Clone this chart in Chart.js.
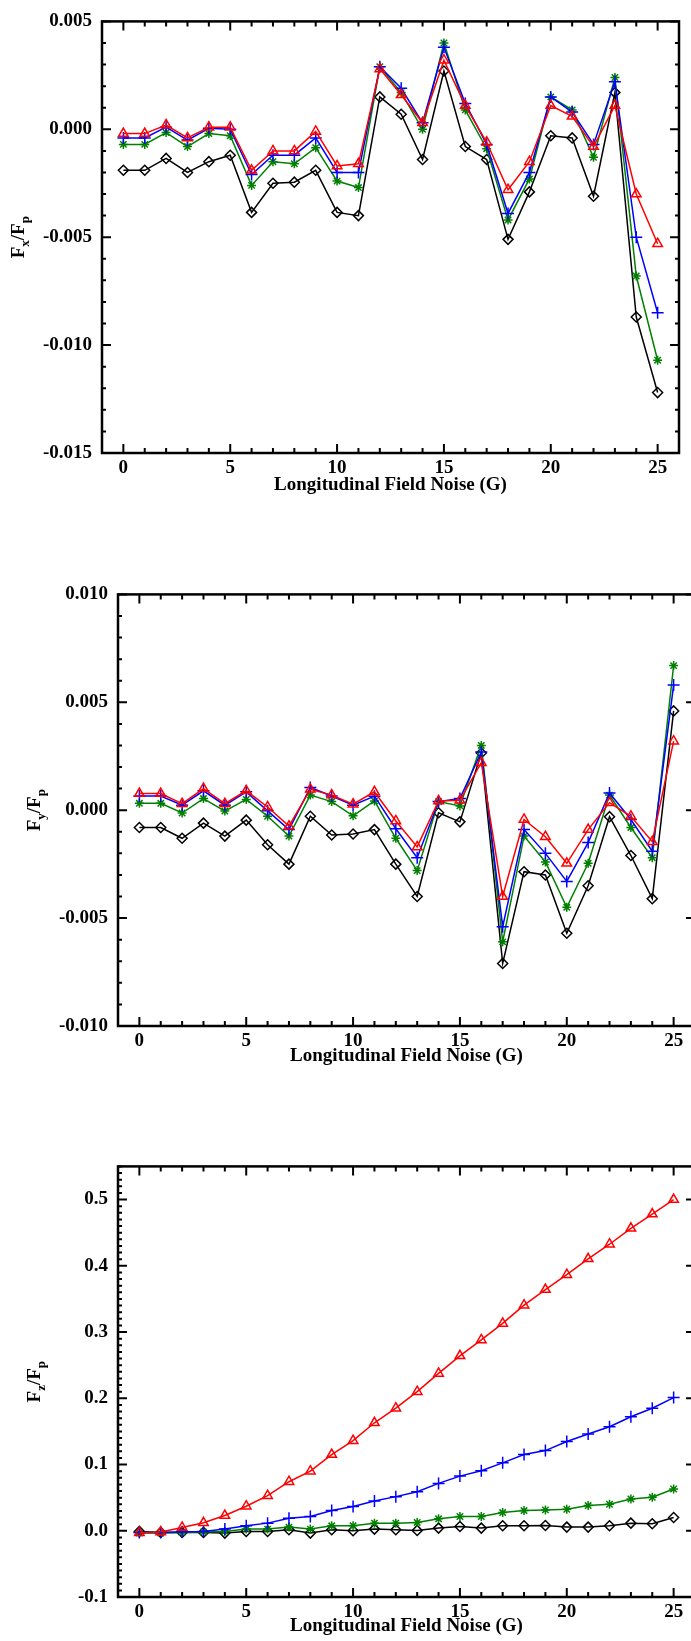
<!DOCTYPE html>
<html>
<head>
<meta charset="utf-8">
<script src="https://cdn.jsdelivr.net/npm/chart.js@4.4.1/dist/chart.umd.min.js"></script>
<style>
  html, body { margin: 0; padding: 0; background: #fff; overflow: hidden; width: 691px; height: 1641px; }
  .panel { position: absolute; left: 0; }
</style>
</head>
<body>
<div class="panel" style="top:0px;width:691px;height:520px"><canvas id="fxChart"></canvas></div>
<div class="panel" style="top:573px;width:720px;height:520px"><canvas id="fyChart"></canvas></div>
<div class="panel" style="top:1145px;width:720px;height:496px"><canvas id="fzChart"></canvas></div>
<script>
// longitudinal field noise (G)
const noise = [0, 1, 2, 3, 4, 5, 6, 7, 8, 9, 10, 11, 12, 13, 14, 15, 16, 17, 18, 19, 20, 21, 22, 23, 24, 25];
const xTicks = [0, 5, 10, 15, 20, 25];
const xTickLabels = ['0', '5', '10', '15', '20', '25'];

// Fx/Fp
const fxRed = [-0.0002, -0.0002, 0.0002, -0.0004, 0.0001, 0.0001, -0.0019, -0.0010, -0.0010, -0.0001, -0.0017, -0.0016, 0.0028, 0.0016, 0.0003, 0.0032, 0.0011, -0.0006, -0.0028, -0.0015, 0.0011, 0.0006, -0.0008, 0.0011, -0.0030, -0.0053];
const fxBlue = [-0.0004, -0.0004, 0.0001, -0.0005, 0.00005, 0.0000, -0.0021, -0.0012, -0.0012, -0.0004, -0.0020, -0.0020, 0.0029, 0.0019, 0.0003, 0.0038, 0.0012, -0.0007, -0.0039, -0.0020, 0.0015, 0.0008, -0.0007, 0.0022, -0.0050, -0.0085];
const fxGreen = [-0.0007, -0.0007, -0.00015, -0.0008, -0.0002, -0.0003, -0.0026, -0.0015, -0.0016, -0.00085, -0.0024, -0.0027, 0.0029, 0.0017, 0.0000, 0.0040, 0.0009, -0.0009, -0.0042, -0.0023, 0.0015, 0.0009, -0.0013, 0.0024, -0.0068, -0.0107];
const fxBlack = [-0.0019, -0.0019, -0.00135, -0.0020, -0.0015, -0.0012, -0.00385, -0.0025, -0.00245, -0.0019, -0.00385, -0.0040, 0.0015, 0.0007, -0.0014, 0.0027, -0.0008, -0.0014, -0.0051, -0.0029, -0.0003, -0.0004, -0.0031, 0.0017, -0.0087, -0.0122];
const fxTicks = [-0.015, -0.010, -0.005, 0.000, 0.005];
const fxTickLabels = ['-0.015', '-0.010', '-0.005', '0.000', '0.005'];

// Fy/Fp
const fyRed = [0.00077, 0.00077, 0.0003, 0.0010, 0.0003, 0.0009, 0.00015, -0.00074, 0.00097, 0.0007, 0.00028, 0.00085, -0.0005, -0.0017, 0.00043, 0.00046, 0.0022, -0.0040, -0.00043, -0.00123, -0.00246, -0.0009, 0.00035, -0.00028, -0.00146, 0.0032];
const fyBlue = [0.00066, 0.00066, 0.00023, 0.0009, 0.00023, 0.00085, -0.00003, -0.0009, 0.00105, 0.00066, 0.00023, 0.00065, -0.00086, -0.0022, 0.0004, 0.00054, 0.0027, -0.0054, -0.0009, -0.0020, -0.0033, -0.0015, 0.0008, -0.00043, -0.0019, 0.0058];
const fyGreen = [0.00032, 0.00032, -0.00013, 0.00054, -0.00004, 0.0005, -0.00028, -0.0012, 0.0007, 0.0004, -0.00026, 0.00043, -0.0013, -0.0028, 0.0004, 0.0002, 0.0030, -0.0061, -0.0012, -0.0024, -0.0045, -0.00246, 0.0007, -0.0008, -0.0022, 0.0067];
const fyBlack = [-0.0008, -0.0008, -0.0013, -0.0006, -0.0012, -0.00046, -0.0016, -0.0025, -0.00028, -0.00115, -0.0011, -0.0009, -0.0025, -0.0040, -0.00012, -0.00054, 0.00265, -0.0071, -0.00285, -0.0030, -0.0057, -0.0035, -0.0003, -0.0021, -0.0041, 0.0046];
const fyTicks = [-0.010, -0.005, 0.000, 0.005, 0.010];
const fyTickLabels = ['-0.010', '-0.005', '0.000', '0.005', '0.010'];

// Fz/Fp
const fzRed = [-0.003, -0.002, 0.005, 0.012, 0.023, 0.037, 0.053, 0.074, 0.090, 0.115, 0.136, 0.163, 0.185, 0.210, 0.2375, 0.264, 0.288, 0.313, 0.3405, 0.364, 0.3865, 0.4105, 0.4325, 0.4565, 0.478, 0.500];
const fzBlue = [-0.0025, -0.0025, -0.0015, -0.001, 0.0025, 0.0075, 0.0115, 0.019, 0.0215, 0.0305, 0.0365, 0.045, 0.0515, 0.059, 0.0715, 0.0825, 0.0905, 0.1025, 0.115, 0.121, 0.1347, 0.146, 0.157, 0.172, 0.185, 0.201];
const fzGreen = [-0.0035, -0.0035, -0.0025, -0.002, -0.001, 0.0025, 0.0025, 0.0055, 0.0025, 0.0075, 0.0075, 0.0115, 0.0115, 0.0125, 0.018, 0.0215, 0.0215, 0.0275, 0.0305, 0.0315, 0.0325, 0.038, 0.040, 0.048, 0.0505, 0.063];
const fzBlack = [-0.001, -0.0025, -0.0025, -0.0025, -0.0035, -0.001, -0.001, 0.0015, -0.0035, 0.0015, 0.0, 0.0025, 0.0015, 0.0005, 0.004, 0.0065, 0.004, 0.0075, 0.0075, 0.008, 0.0055, 0.0055, 0.0075, 0.0115, 0.0105, 0.020];
const fzTicks = [-0.1, 0.0, 0.1, 0.2, 0.3, 0.4, 0.5];
const fzTickLabels = ['-0.1', '0.0', '0.1', '0.2', '0.3', '0.4', '0.5'];

const FONT = '"Liberation Serif", "Times New Roman", serif';

// marker / colour per series
const seriesStyle = [
  { color: '#ff0000', point: 'triangle', radius: 5.5 },
  { color: '#0000ff', point: 'cross', radius: 6 },
  { color: '#008000', point: 'star', radius: 4.5 },
  { color: '#000000', point: 'rectRot', radius: 5 }
];

// frame with inward ticks on all four sides, plus axis titles
const framePlugin = {
  id: 'frame',
  afterDraw(chart, args, opts) {
    const { ctx, chartArea: a, scales: { x, y } } = chart;
    ctx.save();
    ctx.strokeStyle = '#000';
    ctx.lineWidth = 2;
    ctx.beginPath();
    for (let v = 0; v <= 25; v++) {
      const px = x.getPixelForValue(v);
      const len = v % 5 === 0 ? 9 : 5;
      ctx.moveTo(px, a.bottom); ctx.lineTo(px, a.bottom - len);
      ctx.moveTo(px, a.top); ctx.lineTo(px, a.top + len);
    }
    const n = Math.round((opts.ymax - opts.ymin) / opts.minor);
    for (let i = 0; i <= n; i++) {
      const v = opts.ymin + i * opts.minor;
      const r = v / opts.major;
      const len = Math.abs(r - Math.round(r)) < 1e-6 ? 9 : 4;
      const py = y.getPixelForValue(v);
      ctx.moveTo(a.left, py); ctx.lineTo(a.left + len, py);
      ctx.moveTo(a.right, py); ctx.lineTo(a.right - len, py);
    }
    ctx.stroke();
    ctx.lineWidth = 2.5;
    ctx.strokeRect(a.left, a.top, a.right - a.left, a.bottom - a.top);

    ctx.fillStyle = '#000';
    ctx.font = 'bold 19px ' + FONT;
    ctx.textAlign = 'center';
    ctx.textBaseline = 'alphabetic';
    ctx.fillText('Longitudinal Field Noise (G)', (a.left + a.right) / 2, a.bottom + opts.xTitleOffset);

    // y title: F_sub / F_p, rotated
    const big = 'bold 19px ' + FONT, small = 'bold 13px ' + FONT;
    const parts = [['F', big, 0], [opts.sub, small, 5], ['/F', big, 0], ['p', small, 5]];
    let w = 0;
    parts.forEach(p => { ctx.font = p[1]; w += ctx.measureText(p[0]).width; });
    ctx.translate(a.left - 78, (a.top + a.bottom) / 2);
    ctx.rotate(-Math.PI / 2);
    ctx.textAlign = 'left';
    let cx = -w / 2;
    parts.forEach(p => {
      ctx.font = p[1];
      ctx.fillText(p[0], cx, p[2]);
      cx += ctx.measureText(p[0]).width;
    });
    ctx.restore();
  }
};

function makeChart(id, series, yTicks, yLabels, cfg) {
  const datasets = series.map((vals, i) => {
    const s = seriesStyle[i];
    return {
      data: noise.map((g, k) => ({ x: g, y: vals[k] })),
      borderColor: s.color,
      backgroundColor: 'rgba(0,0,0,0)',
      borderWidth: 1.5,
      pointStyle: s.point,
      pointRadius: s.radius,
      pointBorderColor: s.color,
      pointBackgroundColor: 'rgba(0,0,0,0)',
      pointBorderWidth: 1.5,
      tension: 0
    };
  });
  return new Chart(document.getElementById(id), {
    type: 'line',
    data: { datasets },
    options: {
      responsive: true,
      maintainAspectRatio: false,
      animation: false,
      events: [],
      layout: { padding: { top: cfg.top, right: cfg.right, bottom: 0, left: 0 } },
      plugins: {
        legend: { display: false },
        tooltip: { enabled: false },
        frame: cfg.frame
      },
      scales: {
        x: {
          type: 'linear',
          min: -1,
          max: 26,
          grid: { display: false, drawTicks: false },
          border: { display: false },
          afterBuildTicks: s => { s.ticks = xTicks.map(v => ({ value: v })); },
          afterFit: s => { s.height = cfg.xHeight; },
          ticks: {
            padding: 4,
            color: '#000',
            font: { family: FONT, size: 19, weight: 'bold' },
            maxRotation: 0,
            callback: (v, i) => xTickLabels[i]
          }
        },
        y: {
          type: 'linear',
          min: cfg.frame.ymin,
          max: cfg.frame.ymax,
          grid: { display: false, drawTicks: false },
          border: { display: false },
          afterBuildTicks: s => { s.ticks = yTicks.map(v => ({ value: v })); },
          afterFit: s => { s.width = cfg.left; },
          ticks: {
            padding: 10,
            color: '#000',
            font: { family: FONT, size: 19, weight: 'bold' },
            callback: (v, i) => yLabels[i]
          }
        }
      }
    },
    plugins: [framePlugin]
  });
}

makeChart('fxChart', [fxRed, fxBlue, fxGreen, fxBlack], fxTicks, fxTickLabels, {
  top: 20, right: 12, left: 102, xHeight: 520 - 453,
  frame: { ymin: -0.015, ymax: 0.005, major: 0.005, minor: 0.001, sub: 'x', xTitleOffset: 37 }
});
makeChart('fyChart', [fyRed, fyBlue, fyGreen, fyBlack], fyTicks, fyTickLabels, {
  top: 20, right: 25, left: 118, xHeight: 520 - 453,
  frame: { ymin: -0.010, ymax: 0.010, major: 0.005, minor: 0.001, sub: 'y', xTitleOffset: 35 }
});
makeChart('fzChart', [fzRed, fzBlue, fzGreen, fzBlack], fzTicks, fzTickLabels, {
  top: 20, right: 25, left: 118, xHeight: 496 - 452,
  frame: { ymin: -0.1, ymax: 0.55, major: 0.1, minor: 0.01, sub: 'z', xTitleOffset: 34 }
});
</script>
</body>
</html>
